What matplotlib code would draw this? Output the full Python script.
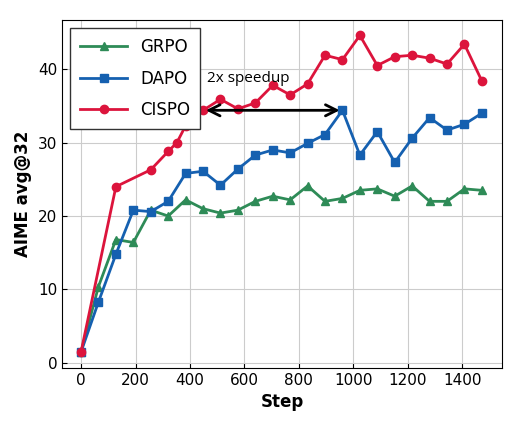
import matplotlib
matplotlib.use("Agg")
import matplotlib.pyplot as plt

steps = [0,64,128,192,256,320,384,448,512,576,640,704,768,832,896,960,1024,1088,1152,1216,1280,1344,1408,1472]
grpo = [1.5,10.4,16.8,16.4,20.8,20.0,22.2,21.0,20.4,20.8,22.0,22.7,22.2,24.1,22.0,22.4,23.5,23.7,22.7,24.1,22.0,22.0,23.7,23.5]
dapo = [1.5,8.3,14.8,20.8,20.6,22.0,25.8,26.1,24.2,26.4,28.3,29.0,28.6,29.9,31.1,34.4,28.3,31.5,27.3,30.6,33.4,31.7,32.5,34.0]
cispo_steps = [0,128,256,320,352,384,448,512,576,640,704,768,832,896,960,1024,1088,1152,1216,1280,1344,1408,1472]
cispo = [1.5,24.0,26.3,28.8,30.0,32.3,34.4,35.9,34.6,35.4,37.8,36.5,38.0,41.9,41.3,44.6,40.5,41.7,41.9,41.5,40.7,43.4,38.4]

fig = plt.figure(figsize=(5.1, 4.25), dpi=100)
ax = fig.add_axes([62/510, 1-368/425, 440/510, 348/425])
ax.plot(steps, grpo, color="#2e8b57", marker="^", ms=6, lw=2, label="GRPO")
ax.plot(steps, dapo, color="#1560b0", marker="s", ms=6, lw=2, label="DAPO")
ax.plot(cispo_steps, cispo, color="#dc143c", marker="o", ms=6, lw=2, label="CISPO")
ax.annotate("", xy=(448, 34.4), xytext=(960, 34.4),
            arrowprops=dict(arrowstyle="<->", color="black", lw=2, mutation_scale=20))
ax.text(462, 38.2, "2x speedup", fontsize=11, family="Open Sans")
ax.set_xlim(-70, 1546)
ax.set_ylim(-0.7, 46.7)
ax.set_xticks(range(0, 1401, 200))
ax.set_yticks(range(0, 41, 10))
ax.tick_params(direction="in", labelsize=11)
ax.grid(True, color="#cccccc", lw=0.8)
ax.set_xlabel("Step", fontsize=12, fontweight="bold")
ax.set_ylabel("AIME avg@32", fontsize=12, fontweight="bold")
leg = ax.legend(loc="upper left", fontsize=12, fancybox=False, edgecolor="#333333",
                handlelength=2.8, borderpad=0.6, labelspacing=0.8, framealpha=1)
fig.savefig("out.png", dpi=100)
